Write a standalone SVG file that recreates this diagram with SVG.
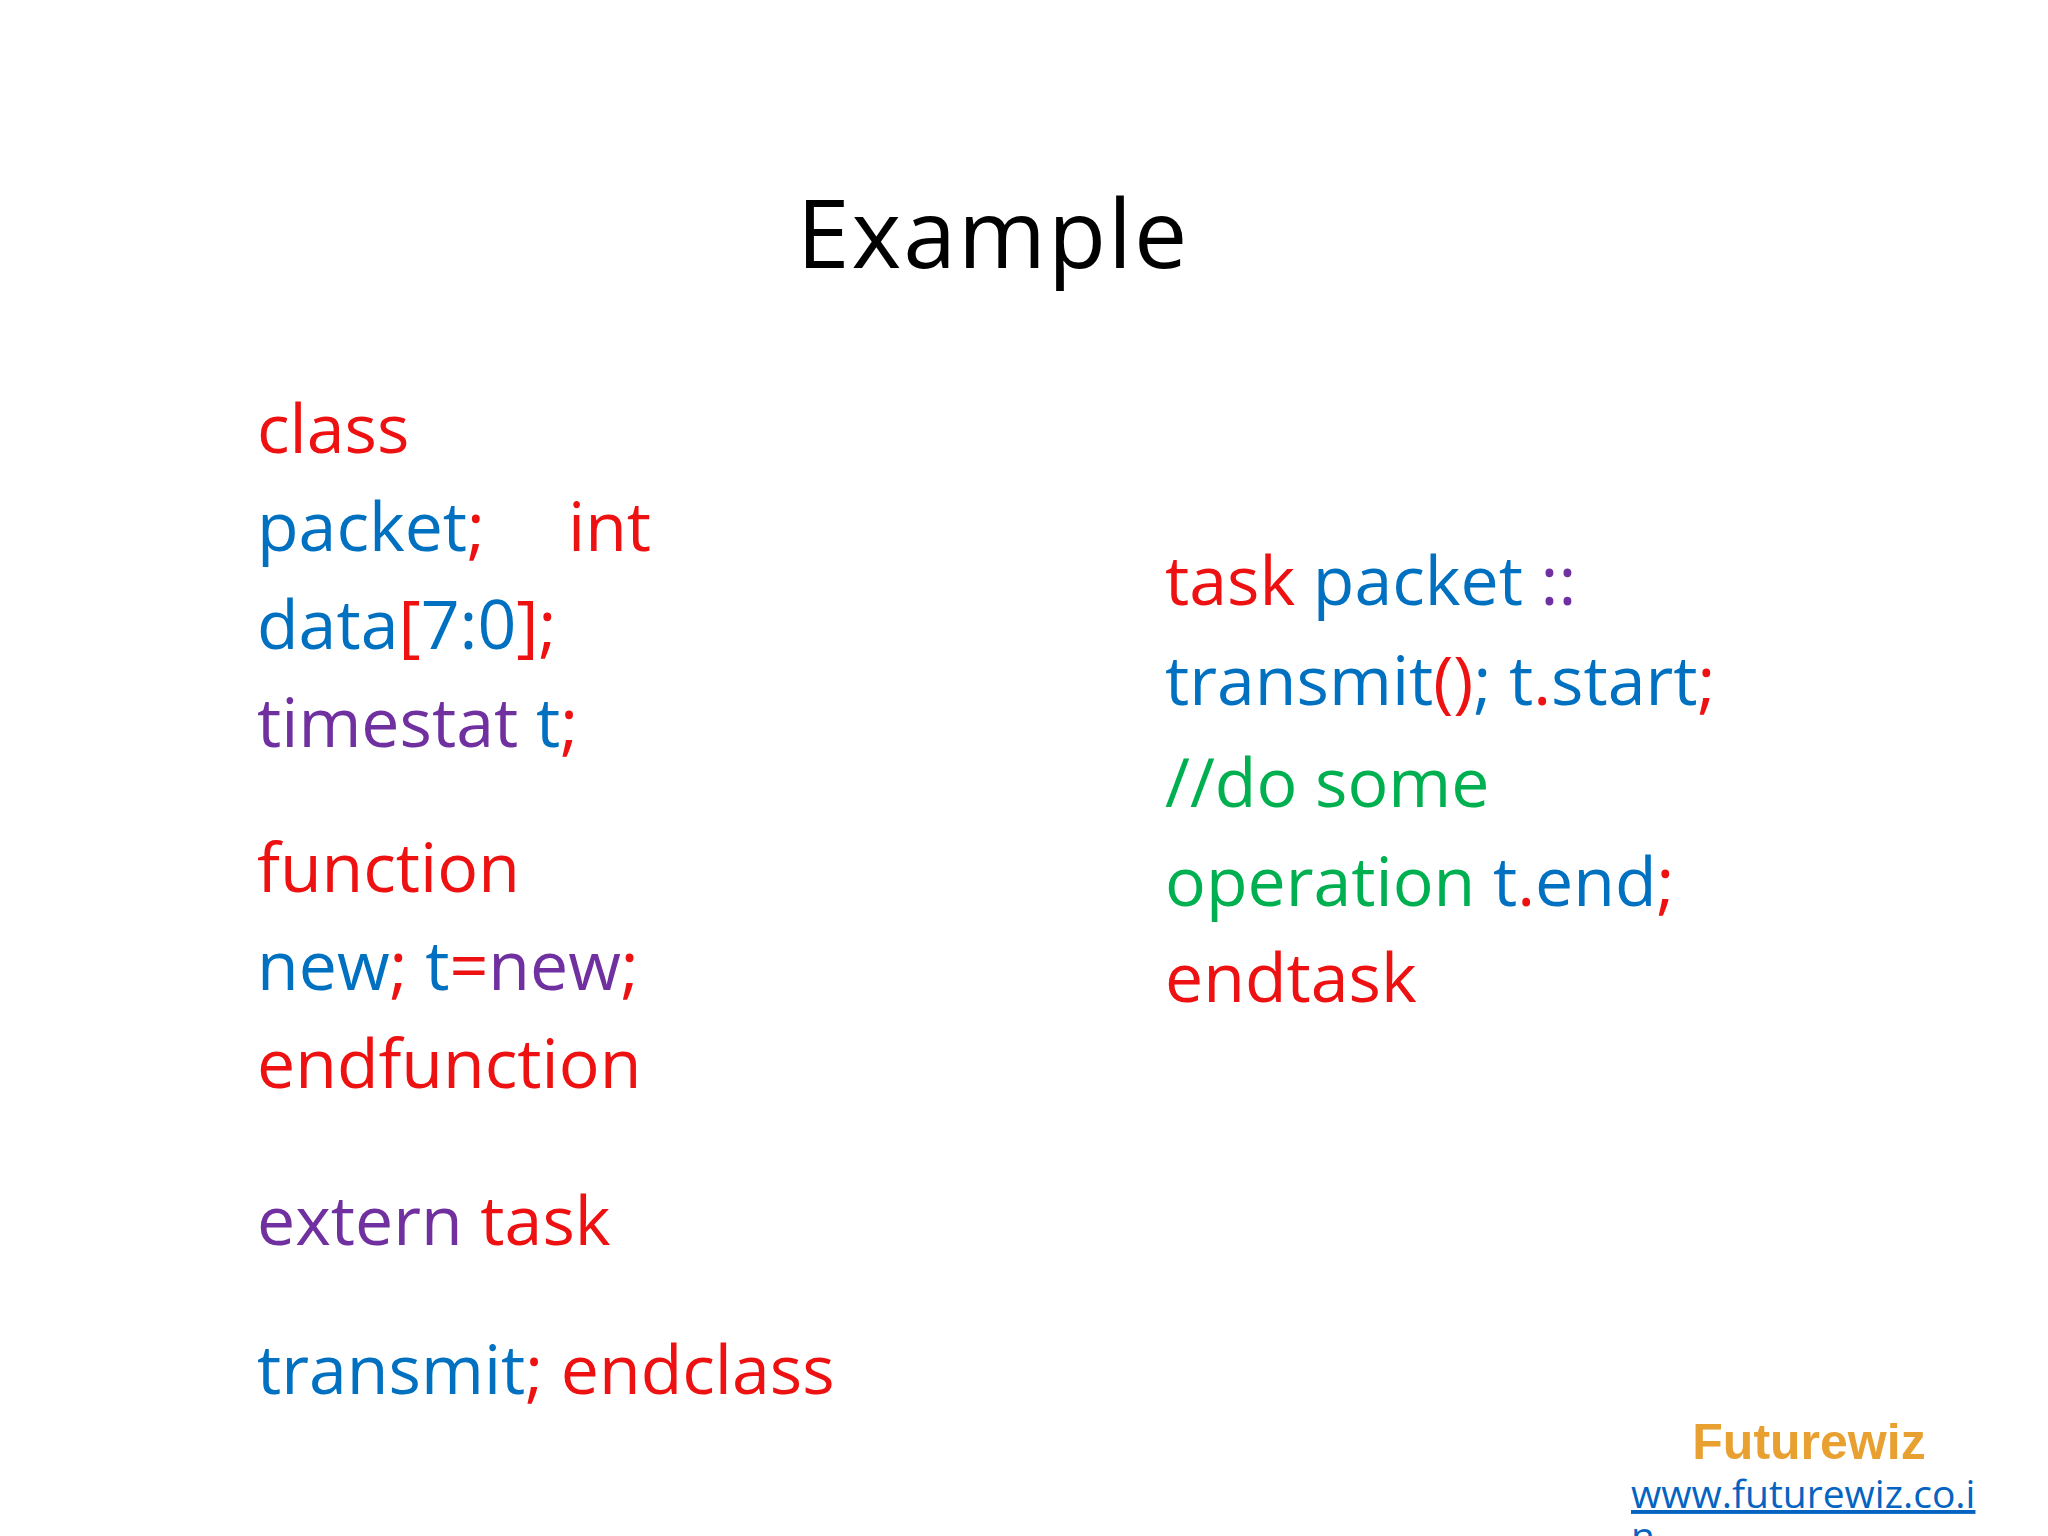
<svg xmlns="http://www.w3.org/2000/svg" width="2048" height="1536" viewBox="0 0 2048 1536">
<style>
text{font-family:"Open Sans","Noto Sans",sans-serif}
.c{font-size:68px}
.r{fill:#ee1111}.b{fill:#0070c0}.p{fill:#7030a0}.g{fill:#00b050}
</style>
<rect width="2048" height="1536" fill="#fff"/>
<g id="title"><text x="993" y="268" font-size="95" letter-spacing="2" text-anchor="middle" fill="#000">Example</text></g>
<g id="left" class="c">
<text x="257" y="453" class="c r">class</text>
<text x="257" y="551" class="c"><tspan class="b">packet</tspan><tspan class="r">;</tspan></text>
<text x="568" y="551" class="c r">int</text>
<text x="257" y="649" class="c"><tspan class="b">data</tspan><tspan class="r">[</tspan><tspan class="b">7:0</tspan><tspan class="r">];</tspan></text>
<text x="257" y="747" class="c"><tspan class="p">timestat </tspan><tspan class="b">t</tspan><tspan class="r">;</tspan></text>
<text x="257" y="892" class="c r">function</text>
<text x="257" y="990" class="c"><tspan class="b">new</tspan><tspan class="r">; </tspan><tspan class="b">t</tspan><tspan class="r">=</tspan><tspan class="p">new</tspan><tspan class="r">;</tspan></text>
<text x="257" y="1088" class="c r">endfunction</text>
<text x="257" y="1245" class="c"><tspan class="p">extern </tspan><tspan class="r">task</tspan></text>
<text x="257" y="1394" class="c"><tspan class="b">transmit</tspan><tspan class="r">; endclass</tspan></text>
</g>
<g id="right">
<text x="1165" y="605" class="c"><tspan class="r">task </tspan><tspan class="b">packet </tspan><tspan class="p">::</tspan></text>
<text x="1165" y="705" class="c"><tspan class="b">transmit</tspan><tspan class="r">()</tspan><tspan class="b">; t</tspan><tspan class="r">.</tspan><tspan class="b">start</tspan><tspan class="r">;</tspan></text>
<text x="1165" y="807" class="c g">//do some</text>
<text x="1165" y="906" class="c"><tspan class="g">operation </tspan><tspan class="b">t</tspan><tspan class="r">.</tspan><tspan class="b">end</tspan><tspan class="r">;</tspan></text>
<text x="1165" y="1002" class="c r">endtask</text>
</g>
<g id="footer">
<text x="1809" y="1459" font-weight="bold" font-size="50" text-anchor="middle" fill="#e8a030" style="font-family:'Liberation Sans',Arial,sans-serif">Futurewiz</text>
<text x="1631" y="1508" font-size="39" fill="#0563c1" text-decoration="underline">www.futurewiz.co.i</text>
<text x="1631" y="1550" font-size="39" fill="#0563c1" text-decoration="underline">n</text>
</g>
</svg>
